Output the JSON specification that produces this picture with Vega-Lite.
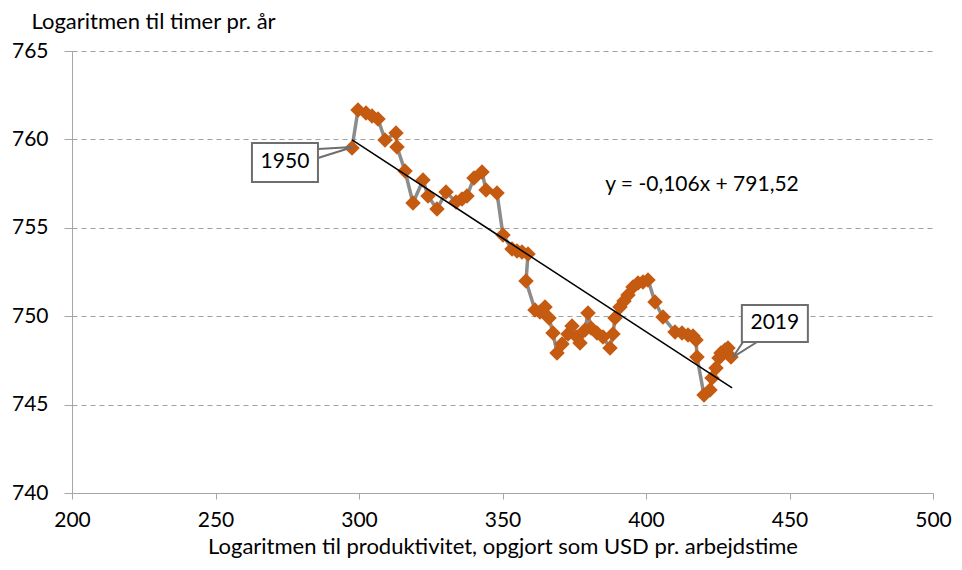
{
  "$schema": "https://vega.github.io/schema/vega-lite/v6.json",
  "width": 861,
  "height": 442,
  "autosize": {"type": "none"},
  "padding": {"left": 72, "top": 51, "right": 29, "bottom": 77},
  "background": "white",
  "config": {
    "view": {"stroke": null},
    "font": "Lato",
    "axis": {"labelFont": "Lato", "titleFont": "Lato", "labelFontSize": 21, "titleFontSize": 22, "labelColor": "#000000", "titleColor": "#000000", "titleFontWeight": "normal", "labelFlush": false, "labelOverlap": false}
  },
  "datasets": {
    "pts": [
      {"year": 1950, "x": 297.56, "y": 759.51},
      {"year": 1951, "x": 299.65, "y": 761.66},
      {"year": 1952, "x": 302.44, "y": 761.49},
      {"year": 1953, "x": 304.53, "y": 761.32},
      {"year": 1954, "x": 306.62, "y": 761.15},
      {"year": 1955, "x": 309.06, "y": 759.97},
      {"year": 1956, "x": 312.89, "y": 760.36},
      {"year": 1957, "x": 313.24, "y": 759.57},
      {"year": 1958, "x": 316.03, "y": 758.21},
      {"year": 1959, "x": 318.82, "y": 756.40},
      {"year": 1960, "x": 322.30, "y": 757.70},
      {"year": 1961, "x": 324.04, "y": 756.80},
      {"year": 1962, "x": 327.18, "y": 756.06},
      {"year": 1963, "x": 330.31, "y": 757.02},
      {"year": 1964, "x": 333.80, "y": 756.46},
      {"year": 1965, "x": 335.89, "y": 756.63},
      {"year": 1966, "x": 337.63, "y": 756.80},
      {"year": 1967, "x": 340.07, "y": 757.82},
      {"year": 1968, "x": 342.86, "y": 758.16},
      {"year": 1969, "x": 344.25, "y": 757.14},
      {"year": 1970, "x": 348.08, "y": 756.97},
      {"year": 1971, "x": 350.17, "y": 754.59},
      {"year": 1972, "x": 353.31, "y": 753.80},
      {"year": 1973, "x": 355.05, "y": 753.69},
      {"year": 1974, "x": 356.79, "y": 753.63},
      {"year": 1975, "x": 358.89, "y": 753.52},
      {"year": 1976, "x": 358.19, "y": 751.99},
      {"year": 1977, "x": 361.32, "y": 750.35},
      {"year": 1978, "x": 363.07, "y": 750.24},
      {"year": 1979, "x": 364.81, "y": 750.52},
      {"year": 1980, "x": 366.20, "y": 749.90},
      {"year": 1981, "x": 367.60, "y": 749.05},
      {"year": 1982, "x": 368.99, "y": 747.92},
      {"year": 1983, "x": 370.73, "y": 748.43},
      {"year": 1984, "x": 372.82, "y": 749.00},
      {"year": 1985, "x": 374.22, "y": 749.45},
      {"year": 1986, "x": 375.96, "y": 748.82},
      {"year": 1987, "x": 377.00, "y": 748.48},
      {"year": 1988, "x": 378.75, "y": 749.22},
      {"year": 1989, "x": 379.79, "y": 750.18},
      {"year": 1990, "x": 380.84, "y": 749.33},
      {"year": 1991, "x": 382.93, "y": 749.05},
      {"year": 1992, "x": 385.02, "y": 748.82},
      {"year": 1993, "x": 387.46, "y": 748.20},
      {"year": 1994, "x": 388.50, "y": 748.99},
      {"year": 1995, "x": 389.20, "y": 749.90},
      {"year": 1996, "x": 390.94, "y": 750.52},
      {"year": 1997, "x": 392.33, "y": 750.86},
      {"year": 1998, "x": 393.73, "y": 751.20},
      {"year": 1999, "x": 395.47, "y": 751.65},
      {"year": 2000, "x": 397.21, "y": 751.88},
      {"year": 2001, "x": 398.95, "y": 751.93},
      {"year": 2002, "x": 400.70, "y": 752.05},
      {"year": 2003, "x": 403.14, "y": 750.80},
      {"year": 2004, "x": 405.92, "y": 749.95},
      {"year": 2005, "x": 410.10, "y": 749.11},
      {"year": 2006, "x": 412.54, "y": 749.05},
      {"year": 2007, "x": 414.63, "y": 748.94},
      {"year": 2008, "x": 416.38, "y": 748.88},
      {"year": 2009, "x": 417.42, "y": 748.65},
      {"year": 2010, "x": 417.77, "y": 747.69},
      {"year": 2011, "x": 420.21, "y": 745.54},
      {"year": 2012, "x": 422.30, "y": 745.83},
      {"year": 2013, "x": 423.00, "y": 746.50},
      {"year": 2014, "x": 424.39, "y": 747.07},
      {"year": 2015, "x": 425.44, "y": 747.64},
      {"year": 2016, "x": 426.13, "y": 747.92},
      {"year": 2017, "x": 427.53, "y": 748.09},
      {"year": 2018, "x": 428.57, "y": 748.20},
      {"year": 2019, "x": 429.62, "y": 747.69}
    ],
    "trend": [
      {"x1": 297.6, "y1": 759.97, "x2": 430.0, "y2": 745.94}
    ],
    "wedges": [
      {"label": "1950", "ord": 1, "x": 285.7, "y": 759.46},
      {"label": "1950", "ord": 2, "x": 297.9, "y": 759.57},
      {"label": "1950", "ord": 3, "x": 285.7, "y": 758.95},
      {"label": "2019", "ord": 1, "x": 433.8, "y": 748.54},
      {"label": "2019", "ord": 2, "x": 430.3, "y": 747.69},
      {"label": "2019", "ord": 3, "x": 438.7, "y": 748.54}
    ],
    "boxes": [
      {"label": "1950", "x1": 262.7, "x2": 285.7, "y1": 759.80, "y2": 757.59, "tx": 274.2, "ty": 758.70},
      {"label": "2019", "x1": 433.4, "x2": 456.4, "y1": 750.63, "y2": 748.54, "tx": 444.9, "ty": 749.59}
    ],
    "eq": [
      {"label": "y = -0,106x + 791,52", "x": 419.5, "y": 757.4}
    ]
  },
  "layer": [
    {
      "data": {"name": "pts"},
      "mark": {"type": "line", "color": "#8C8C8C", "strokeWidth": 3.5},
      "encoding": {
        "x": {"field": "x", "type": "quantitative", "scale": {"domain": [200, 500], "nice": false, "zero": false},
          "axis": {"values": [200, 250, 300, 350, 400, 450, 500], "grid": false, "domainColor": "#A6A6A6", "domainWidth": 1, "tickColor": "#A6A6A6", "tickSize": 6, "labelPadding": 10, "title": "Logaritmen til produktivitet, opgjort som USD pr. arbejdstime", "titlePadding": 6}},
        "y": {"field": "y", "type": "quantitative", "scale": {"domain": [740, 765], "nice": false, "zero": false},
          "axis": {"values": [740, 745, 750, 755, 760, 765], "grid": true, "gridDash": [5, 4], "gridColor": "#A0A0A0", "gridWidth": 1, "domainColor": "#A6A6A6", "domainWidth": 1, "tickColor": "#A6A6A6", "tickSize": 8, "labelPadding": 16, "title": "Logaritmen til timer pr. år", "titleAngle": 0, "titleAlign": "left", "titleBaseline": "alphabetic", "titleX": -41, "titleY": -23}},
        "order": {"field": "year", "type": "quantitative"}
      }
    },
    {
      "data": {"name": "pts"},
      "mark": {"type": "point", "shape": "diamond", "filled": true, "color": "#C55A11", "size": 240, "opacity": 1},
      "encoding": {
        "x": {"field": "x", "type": "quantitative"},
        "y": {"field": "y", "type": "quantitative"}
      }
    },
    {
      "data": {"name": "trend"},
      "mark": {"type": "rule", "color": "#000000", "strokeWidth": 1.5},
      "encoding": {
        "x": {"field": "x1", "type": "quantitative"},
        "y": {"field": "y1", "type": "quantitative"},
        "x2": {"field": "x2"},
        "y2": {"field": "y2"}
      }
    },
    {
      "data": {"name": "wedges"},
      "mark": {"type": "line", "color": "#6E6E6E", "strokeWidth": 2},
      "encoding": {
        "x": {"field": "x", "type": "quantitative"},
        "y": {"field": "y", "type": "quantitative"},
        "detail": {"field": "label"},
        "order": {"field": "ord", "type": "quantitative"}
      }
    },
    {
      "data": {"name": "boxes"},
      "mark": {"type": "rect", "fill": "white", "stroke": "#6E6E6E", "strokeWidth": 2},
      "encoding": {
        "x": {"field": "x1", "type": "quantitative"},
        "x2": {"field": "x2"},
        "y": {"field": "y1", "type": "quantitative"},
        "y2": {"field": "y2"}
      }
    },
    {
      "data": {"name": "boxes"},
      "mark": {"type": "text", "fontSize": 21, "font": "Lato", "color": "#000000", "align": "center", "baseline": "middle"},
      "encoding": {
        "x": {"field": "tx", "type": "quantitative"},
        "y": {"field": "ty", "type": "quantitative"},
        "text": {"field": "label"}
      }
    },
    {
      "data": {"name": "eq"},
      "mark": {"type": "text", "fontSize": 21, "font": "Lato", "color": "#000000", "align": "center", "baseline": "middle"},
      "encoding": {
        "x": {"field": "x", "type": "quantitative"},
        "y": {"field": "y", "type": "quantitative"},
        "text": {"field": "label"}
      }
    }
  ]
}
